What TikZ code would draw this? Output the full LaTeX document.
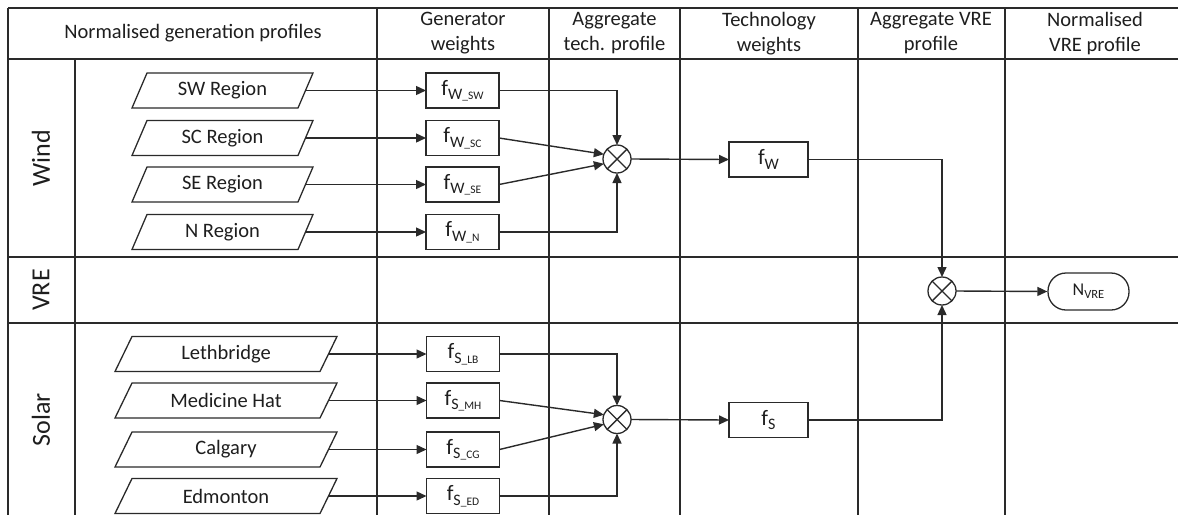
\documentclass[tikz,border=0pt]{standalone}
\usepackage{fontspec}
\setmainfont{Carlito}
\usetikzlibrary{arrows.meta}
\definecolor{ln}{HTML}{2a2a2a}
\definecolor{tx}{HTML}{1e1e1e}
\newcommand{\fsub}[3]{#1\raisebox{-4.5pt}{\fontsize{16}{16}\selectfont #2\fontsize{11.5}{11.5}\selectfont #3}}
\begin{document}
\begin{tikzpicture}[x=1pt,y=-1pt,
 grid/.style={draw=ln,line width=1.5pt},
 hdr/.style={font=\fontsize{20.5}{25}\selectfont,text=tx,align=center},
 lane/.style={font=\fontsize{26}{26}\selectfont,text=tx,rotate=90},
 parabody/.style={minimum height=35pt,font=\fontsize{20.5}{20.5}\selectfont,text=tx,inner sep=0pt,outer sep=0pt},
 paraline/.style={draw=ln,line width=1.3pt,line join=miter},
 wbox/.style={draw=ln,line width=1.3pt,minimum width=73pt,minimum height=35pt,inner sep=0pt,outer sep=0pt,font=\fontsize{22}{22}\selectfont,text=tx},
 mult/.style={circle,draw=ln,line width=1.3pt,minimum size=28pt,inner sep=0pt,outer sep=0pt},
 con/.style={draw=ln,line width=1.4pt},
 arr/.style={con,-{Triangle[length=10pt,width=9pt]}}]
\useasboundingbox (0,0) rectangle (1178,515);
% grid
\draw[grid] (8,8) -- (1178,8);
\draw[grid] (8,59) -- (1178,59);
\draw[grid] (8,257) -- (1178,257);
\draw[grid] (8,323) -- (1178,323);
\draw[grid] (8,8) -- (8,515);
\draw[grid] (75,59) -- (75,515);
\foreach \x in {377,549,680,858,1005} \draw[grid] (\x,8) -- (\x,515);
% headers
\node[hdr] (h1) at (193,33) {Normalised generation profiles};
\node[hdr] (h2) at (463,33.5) {Generator\\weights};
\node[hdr] (h3) at (614.5,33.5) {Aggregate\\tech. profile};
\node[hdr] (h4) at (769,33.5) {Technology\\weights};
\node[hdr] (h5) at (931,33.5) {Aggregate VRE\\profile};
\node[hdr] (h6) at (1095,33.5) {Normalised\\VRE profile};
% lanes
\node[lane] (lw) at (41,158) {Wind};
\node[lane] (lv) at (41,290) {VRE};
\node[lane] (ls) at (41,420) {Solar};
% wind profiles
\foreach \n/\y/\t in {p1/90.5/SW Region,p2/138/SC Region,p3/184.5/SE Region,p4/232/N Region}{
  \node[parabody,minimum width=166pt] (\n) at (222.5,\y) {\t};
  \draw[paraline] ([xshift=-7.5pt]\n.south west) -- ([xshift=7.5pt]\n.north west) -- ([xshift=7.5pt]\n.north east) -- ([xshift=-7.5pt]\n.south east) -- cycle;
}
\node[wbox] (f1) at (462.5,90.5) {\fsub{f}{W}{\_SW}};
\node[wbox] (f2) at (462.5,138) {\fsub{f}{W}{\_SC}};
\node[wbox] (f3) at (462.5,184.5) {\fsub{f}{W}{\_SE}};
\node[wbox] (f4) at (462.5,232) {\fsub{f}{W}{\_N}};
\node[mult] (cw) at (617,159) {};
\draw[con] (cw.45) -- (cw.225) (cw.135) -- (cw.315);
\node[wbox,minimum width=79pt] (fw) at (768.5,159.5) {\fsub{f}{W}{}};
% solar profiles
\foreach \n/\y/\t in {q1/354/Lethbridge,q2/400.5/Medicine Hat,q3/449.5/Calgary,q4/496/Edmonton}{
  \node[parabody,minimum width=205pt] (\n) at (226,\y) {\t};
  \draw[paraline] ([xshift=-8.5pt]\n.south west) -- ([xshift=8.5pt]\n.north west) -- ([xshift=8.5pt]\n.north east) -- ([xshift=-8.5pt]\n.south east) -- cycle;
}
\node[wbox] (g1) at (463,354) {\fsub{f}{S}{\_LB}};
\node[wbox] (g2) at (463,400.5) {\fsub{f}{S}{\_MH}};
\node[wbox] (g3) at (463,449.5) {\fsub{f}{S}{\_CG}};
\node[wbox] (g4) at (463,496) {\fsub{f}{S}{\_ED}};
\node[mult] (cs) at (617,419.5) {};
\draw[con] (cs.45) -- (cs.225) (cs.135) -- (cs.315);
\node[wbox,minimum width=79pt] (fs) at (768.5,420) {\fsub{f}{S}{}};
% VRE
\node[mult] (cv) at (942,291) {};
\draw[con] (cv.45) -- (cv.225) (cv.135) -- (cv.315);
\node[draw=ln,line width=1.3pt,rounded corners=18pt,minimum width=81pt,minimum height=37pt,inner sep=0pt,font=\fontsize{18}{18}\selectfont,text=tx] (nv) at (1088.5,291.5) {N\raisebox{-3pt}{\fontsize{12.5}{12.5}\selectfont VRE}};
% connectors
\foreach \a/\b in {p1/f1,p2/f2,p3/f3,p4/f4,q1/g1,q2/g2,q3/g3,q4/g4} \draw[arr] (\a.east) -- (\b.west);
\draw[arr] (f1.east) -| (cw.north);
\draw[arr] (f4.east) -| (cw.south);
\draw[arr] (f2.east) -- (cw.160);
\draw[arr] (f3.east) -- (cw.200);
\draw[arr] (cw.east) -- (fw.west);
\draw[arr] (g1.east) -| (cs.north);
\draw[arr] (g4.east) -| (cs.south);
\draw[arr] (g2.east) -- (cs.160);
\draw[arr] (g3.east) -- (cs.200);
\draw[arr] (cs.east) -- (fs.west);
\draw[arr] (fw.east) -| (cv.north);
\draw[arr] (fs.east) -| (cv.south);
\draw[arr] (cv.east) -- (nv.west);
\end{tikzpicture}
\end{document}
